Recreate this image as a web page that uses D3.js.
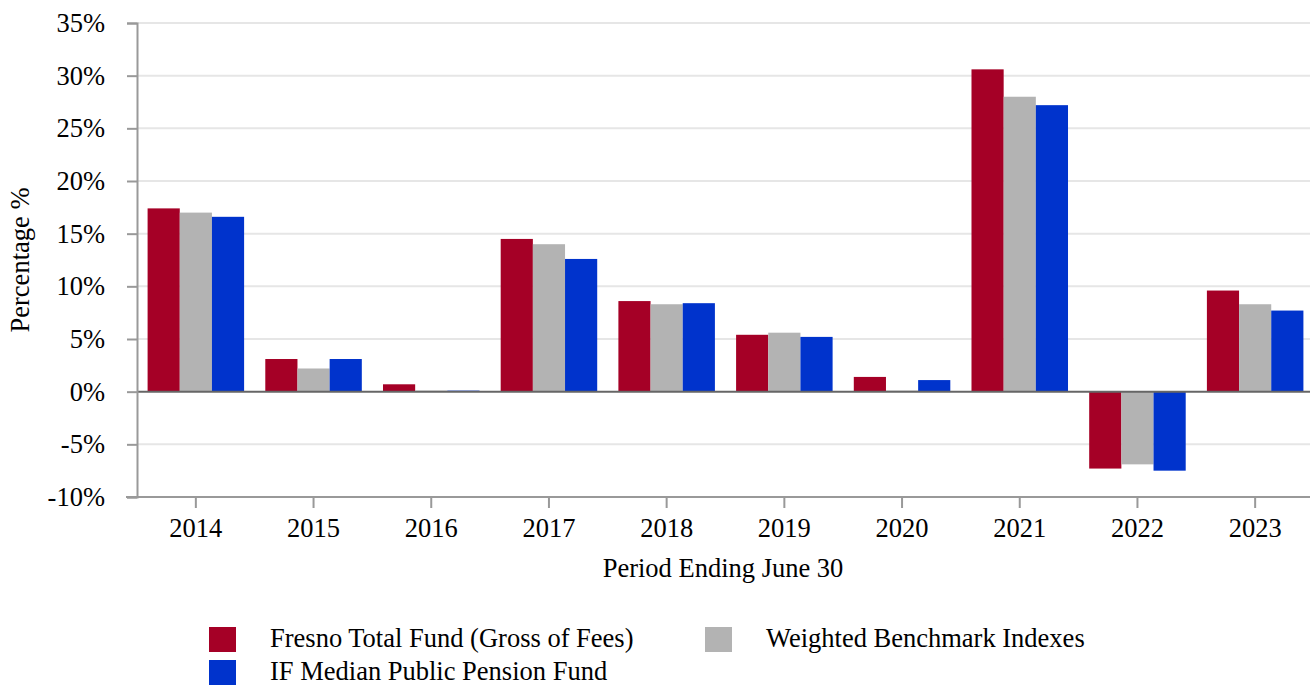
<!DOCTYPE html>
<html>
<head>
<meta charset="utf-8">
<script src="https://cdn.jsdelivr.net/npm/d3@7"></script>
<style>
  body { margin: 0; background: #fff; }
  svg { display: block; font-family: "Liberation Serif", "Times New Roman", serif; }
</style>
</head>
<body>
<div id="chart"></div>
<script>
const years = ['2014', '2015', '2016', '2017', '2018', '2019', '2020', '2021', '2022', '2023'];
const fresno = [17.4, 3.1, 0.7, 14.5, 8.6, 5.4, 1.4, 30.6, -7.3, 9.6];
const benchmark = [17.0, 2.2, 0.1, 14.0, 8.3, 5.6, 0.1, 28.0, -6.9, 8.3];
const median = [16.6, 3.1, 0.1, 12.6, 8.4, 5.2, 1.1, 27.2, -7.5, 7.7];
const yTicks = [-10, -5, 0, 5, 10, 15, 20, 25, 30, 35];

const seriesNames = ['Fresno Total Fund (Gross of Fees)', 'Weighted Benchmark Indexes', 'IF Median Public Pension Fund'];
const colors = ['#a50026', '#b3b3b3', '#0033cc'];
const seriesVals = [fresno, benchmark, median];

const width = 1310;
const height = 687;
const margin = { top: 23, right: -4, bottom: 190, left: 137 };
const fontSize = '26.5px';

const svg = d3.select('#chart')
  .append('svg')
  .attr('width', width)
  .attr('height', height);

const x = d3.scaleBand()
  .domain(years)
  .range([margin.left, width - margin.right])
  .paddingInner(0.18)
  .paddingOuter(0.09);

const xs = d3.scaleBand()
  .domain(d3.range(seriesNames.length))
  .range([0, x.bandwidth()]);

const y = d3.scaleLinear()
  .domain([-10, 35])
  .range([height - margin.bottom, margin.top]);

// gridlines
svg.append('g')
  .selectAll('line')
  .data(yTicks.filter(d => d !== 0 && d !== -10))
  .join('line')
    .attr('x1', margin.left)
    .attr('x2', width)
    .attr('y1', d => y(d))
    .attr('y2', d => y(d))
    .attr('stroke', '#e6e6e6')
    .attr('stroke-width', 2);

// bars
const rows = years.map((yr, i) => ({ yr, vals: seriesVals.map(s => s[i]) }));

svg.append('g')
  .selectAll('g')
  .data(rows)
  .join('g')
    .attr('transform', d => `translate(${x(d.yr)},0)`)
  .selectAll('rect')
  .data(d => d.vals.map((v, k) => ({ v, k })))
  .join('rect')
    .attr('x', d => xs(d.k))
    .attr('width', xs.bandwidth())
    .attr('y', d => y(Math.max(0, d.v)))
    .attr('height', d => Math.abs(y(d.v) - y(0)))
    .attr('fill', d => colors[d.k]);

// zero line
svg.append('line')
  .attr('x1', margin.left)
  .attr('x2', width)
  .attr('y1', y(0))
  .attr('y2', y(0))
  .attr('stroke', '#666')
  .attr('stroke-width', 2);

function yAxis(g) {
  g.attr('transform', `translate(${margin.left},0)`)
    .call(d3.axisLeft(y).tickValues(yTicks).tickFormat(d => d + '%').tickSize(10).tickPadding(22))
    .attr('font-size', fontSize)
    .attr('font-family', null);
  g.select('.domain').attr('stroke', '#999').attr('stroke-width', 2);
  g.selectAll('.tick line').attr('stroke', '#999').attr('stroke-width', 2);
  g.selectAll('text').attr('fill', '#000');
}

function xAxis(g) {
  g.attr('transform', `translate(0,${height - margin.bottom})`)
    .call(d3.axisBottom(x).tickSize(11).tickPadding(10).tickSizeOuter(0))
    .attr('font-size', fontSize)
    .attr('font-family', null);
  g.select('.domain').attr('stroke', '#999').attr('stroke-width', 2)
    .attr('d', `M${margin.left - 11},0H${width}`);
  g.selectAll('.tick line').attr('stroke', '#999').attr('stroke-width', 2);
  g.selectAll('text').attr('fill', '#000');
}

svg.append('g').call(xAxis);
svg.append('g').call(yAxis);

// axis titles
svg.append('text')
  .attr('transform', `translate(29,${(y(35) + y(-10)) / 2}) rotate(-90)`)
  .attr('text-anchor', 'middle')
  .attr('font-size', fontSize)
  .text('Percentage %');

svg.append('text')
  .attr('x', 723)
  .attr('y', 577)
  .attr('text-anchor', 'middle')
  .attr('font-size', fontSize)
  .text('Period Ending June 30');

// legend
const legendPos = [[209, 627], [705, 627], [209, 660]];
const legend = svg.append('g')
  .selectAll('g')
  .data(seriesNames)
  .join('g')
    .attr('transform', (d, i) => `translate(${legendPos[i][0]},${legendPos[i][1]})`);

legend.append('rect')
  .attr('width', 27)
  .attr('height', 25)
  .attr('fill', (d, i) => colors[i]);

legend.append('text')
  .attr('x', 61)
  .attr('y', 20)
  .attr('font-size', fontSize)
  .text(d => d);
</script>
</body>
</html>
